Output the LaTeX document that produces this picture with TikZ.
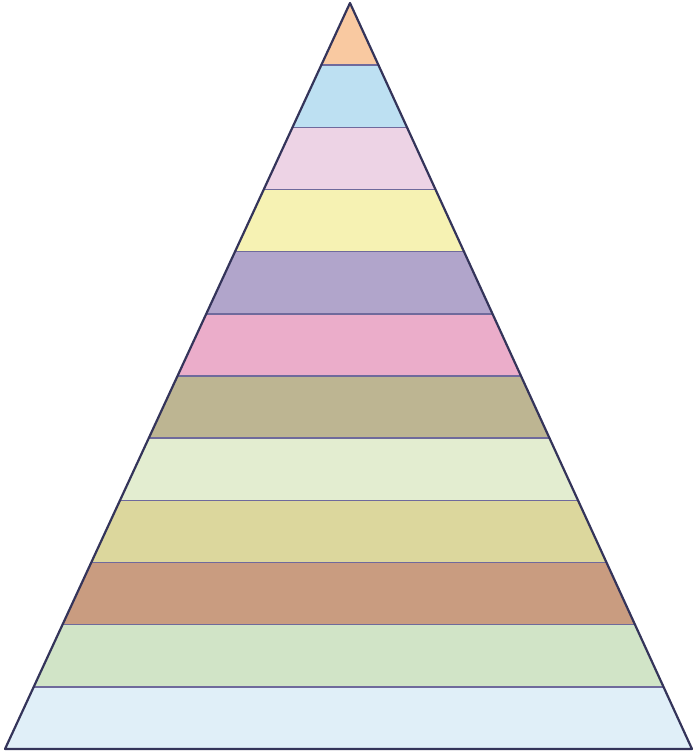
\documentclass[tikz,border=0pt]{standalone}
\usetikzlibrary{calc}
\definecolor{c1}{HTML}{F9C9A1}
\definecolor{c2}{HTML}{BDE0F2}
\definecolor{c3}{HTML}{EDD3E5}
\definecolor{c4}{HTML}{F6F2B3}
\definecolor{c5}{HTML}{B1A5CB}
\definecolor{c6}{HTML}{EBADCA}
\definecolor{c7}{HTML}{BDB592}
\definecolor{c8}{HTML}{E3EDD0}
\definecolor{c9}{HTML}{DCD79D}
\definecolor{c10}{HTML}{C99C80}
\definecolor{c11}{HTML}{D1E4C7}
\definecolor{c12}{HTML}{E0EFF8}
\definecolor{sep}{HTML}{6F6A9C}
\definecolor{edge}{HTML}{34345A}
\tikzset{bandline/.style={draw=sep,line width=1.6pt},
         outline/.style={draw=edge,line width=2.2pt,line join=round}}
\begin{document}
\begin{tikzpicture}[x=1pt,y=-1pt]
\useasboundingbox (0,0) rectangle (693,754);
\coordinate (A) at (350,3);
\coordinate (L) at (5,749);
\coordinate (R) at (692,749);
\foreach \i in {1,...,12}{
  \pgfmathsetmacro{\ta}{(\i-1)/12}
  \pgfmathsetmacro{\tb}{\i/12}
  \fill[c\i] ($(A)!\ta!(L)$) -- ($(A)!\tb!(L)$) -- ($(A)!\tb!(R)$) -- ($(A)!\ta!(R)$) -- cycle;
}
\foreach \i in {1,...,11}{
  \pgfmathsetmacro{\tb}{\i/12}
  \draw[bandline] ($(A)!\tb!(L)$) -- ($(A)!\tb!(R)$);
}
\draw[outline] (A) -- (L) -- (R) -- cycle;
\end{tikzpicture}
\end{document}
